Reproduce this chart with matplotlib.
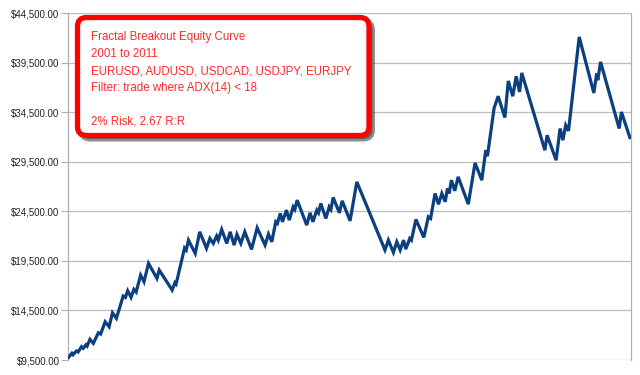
import matplotlib
matplotlib.use("Agg")
import matplotlib.pyplot as plt
from matplotlib.patches import FancyBboxPatch
from matplotlib.ticker import FuncFormatter

# equity curve (time in years, balance in $)
years = [
    2001.01, 2001.07, 2001.09, 2001.15, 2001.18, 2001.24, 2001.27, 2001.32,
    2001.34, 2001.39, 2001.45, 2001.54, 2001.58, 2001.66, 2001.73, 2001.79,
    2001.86, 2001.98, 2002.02, 2002.06, 2002.12, 2002.17, 2002.21, 2002.29,
    2002.35, 2002.43, 2002.58, 2002.62, 2002.85, 2002.90, 2002.92, 2003.07,
    2003.10, 2003.14, 2003.26, 2003.34, 2003.46, 2003.52, 2003.58, 2003.64,
    2003.67, 2003.73, 2003.82, 2003.88, 2003.95, 2004.00, 2004.07, 2004.14,
    2004.26, 2004.36, 2004.50, 2004.56, 2004.62, 2004.69, 2004.72, 2004.77,
    2004.81, 2004.88, 2004.93, 2005.00, 2005.03, 2005.07, 2005.24, 2005.30,
    2005.35, 2005.42, 2005.45, 2005.49, 2005.58, 2005.64, 2005.67, 2005.71,
    2005.82, 2005.87, 2006.01, 2006.13, 2006.63, 2006.69, 2006.78, 2006.84,
    2006.90, 2006.96, 2007.00, 2007.07, 2007.10, 2007.18, 2007.32, 2007.40,
    2007.44, 2007.52, 2007.58, 2007.64, 2007.70, 2007.74, 2007.77, 2007.81,
    2007.87, 2007.93, 2008.11, 2008.23, 2008.35, 2008.42, 2008.45, 2008.57,
    2008.58, 2008.64, 2008.76, 2008.82, 2008.90, 2008.96, 2009.02, 2009.06,
    2009.47, 2009.51, 2009.67, 2009.74, 2009.79, 2009.84, 2009.89, 2010.08,
    2010.34, 2010.39, 2010.41, 2010.46, 2010.79, 2010.83, 2010.98,
]
equity = [
    9770, 10180, 10030, 10410, 10310, 10840, 10680, 11040,
    10910, 11590, 11180, 12250, 12120, 13360, 12860, 14270,
    13710, 15960, 15820, 16490, 15820, 16630, 16360, 18070,
    17400, 19250, 17740, 18580, 16560, 17300, 17170, 20800,
    20590, 21600, 20260, 22440, 20770, 21770, 21270, 22010,
    21600, 22680, 21270, 22440, 21100, 22180, 21270, 22440,
    20670, 22840, 21100, 22210, 21430, 23450, 23290, 24300,
    23450, 24630, 23620, 24960, 24700, 25640, 23120, 24360,
    23450, 24630, 24360, 25300, 23790, 24960, 24700, 25910,
    24360, 25570, 23550, 27480, 20600, 21600, 20360, 21430,
    20600, 21600, 20700, 21770, 21600, 23690, 21880, 23950,
    23790, 26310, 25230, 26310, 25470, 26820, 26310, 27650,
    26580, 27990, 25230, 29400, 27650, 30680, 30080, 34990,
    35120, 36130, 33980, 37670, 36130, 38140, 36560, 38480,
    30680, 32190, 29670, 32870, 31690, 33200, 32630, 42110,
    36460, 38420, 37740, 39590, 32870, 34540, 31960,
]

y_ticks = [9500, 14500, 19500, 24500, 29500, 34500, 39500, 44500]

note_lines = [
    "Fractal Breakout Equity Curve",
    "2001 to 2011",
    "EURUSD, AUDUSD, USDCAD, USDJPY, EURJPY",
    "Filter: trade where ADX(14) < 18",
    "",
    "2% Risk, 2.67 R:R",
]


def main():
    fig = plt.figure(figsize=(6.4, 3.75), dpi=100)
    ax = fig.add_axes([68 / 640, 15 / 375, 563 / 640, 346.7 / 375])

    ax.plot(years, equity, color="#0b3f80", lw=2.3, solid_joinstyle="miter",
            zorder=3)

    ax.set_xlim(2001.0, 2011.0)
    ax.set_ylim(9500, 44500)
    ax.set_yticks(y_ticks)
    ax.yaxis.set_major_formatter(FuncFormatter(lambda v, p: f"${v:,.2f}"))
    ax.set_xticks([])
    ax.tick_params(axis="y", length=5, width=0.8, color="#b0b0b0",
                   labelsize=7, labelcolor="#222222", pad=1)
    for lbl in ax.get_yticklabels():
        lbl.set_family("Liberation Sans")
    ax.grid(axis="y", color="#bdbdbd", lw=0.9, zorder=0)
    for side in ["left", "right"]:
        ax.spines[side].set_color("#b0b0b0")
        ax.spines[side].set_linewidth(0.9)
    for side in ["top", "bottom"]:
        ax.spines[side].set_visible(False)

    # annotation box, placed in pixel-like inches
    inch = fig.dpi_scale_trans
    x0, y0, x1, y1 = 77.5, 17.5, 369, 135.5
    w, h = (x1 - x0) / 100, (y1 - y0) / 100
    bx, by = x0 / 100, (375 - y1) / 100
    shadow = FancyBboxPatch((bx + 0.035, by - 0.035), w, h,
                            boxstyle="round,pad=0,rounding_size=0.09",
                            transform=inch, fc="#444444", ec="#444444",
                            lw=3.6, alpha=0.6, zorder=4)
    box = FancyBboxPatch((bx, by), w, h,
                         boxstyle="round,pad=0,rounding_size=0.09",
                         transform=inch, fc="white", ec="#ff0000",
                         lw=3.8, zorder=5)
    fig.patches.extend([shadow, box])

    baselines = [40, 57, 74, 91, 108, 125]
    for line, yb in zip(note_lines, baselines):
        if line:
            fig.text(91 / 640, 1 - yb / 375, line, color="#ff2a2a",
                     fontsize=8.3, family="Liberation Sans", va="baseline",
                     ha="left", zorder=6)

    fig.savefig("out.png", dpi=100)


if __name__ == "__main__":
    main()
